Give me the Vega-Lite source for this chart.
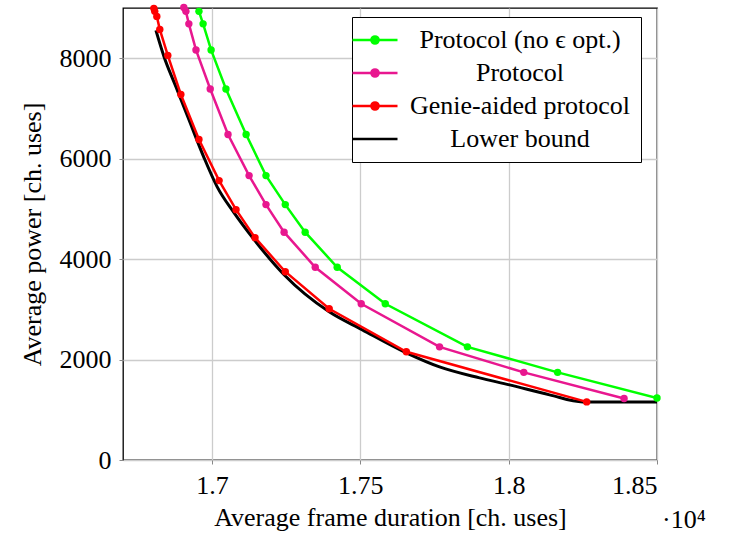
{
  "$schema": "https://vega.github.io/schema/vega-lite/v6.json",
  "width": 534,
  "height": 452,
  "autosize": {"type": "none"},
  "padding": {"left": 123, "top": 8, "right": 81, "bottom": 76},
  "background": "white",
  "config": {
    "font": "Liberation Serif, Times New Roman, DejaVu Serif, serif",
    "view": {"stroke": "black", "strokeWidth": 1.3},
    "axis": {
      "labelFont": "Liberation Serif, Times New Roman, DejaVu Serif, serif",
      "labelFontSize": 26,
      "labelColor": "black",
      "titleFont": "Liberation Serif, Times New Roman, DejaVu Serif, serif",
      "titleFontSize": 26,
      "titleFontWeight": "normal",
      "titleColor": "black",
      "domain": false,
      "grid": true,
      "gridColor": "#cccccc",
      "gridWidth": 1.3,
      "tickColor": "#888888",
      "tickSize": 4,
      "labelPadding": 8
    }
  },
  "datasets": {
    "curves": [
      {"series": "Protocol (no ϵ opt.)", "x": 16956, "y": 8933},
      {"series": "Protocol (no ϵ opt.)", "x": 16970, "y": 8684},
      {"series": "Protocol (no ϵ opt.)", "x": 16997, "y": 8165},
      {"series": "Protocol (no ϵ opt.)", "x": 17047, "y": 7388},
      {"series": "Protocol (no ϵ opt.)", "x": 17115, "y": 6481},
      {"series": "Protocol (no ϵ opt.)", "x": 17182, "y": 5663},
      {"series": "Protocol (no ϵ opt.)", "x": 17247, "y": 5085},
      {"series": "Protocol (no ϵ opt.)", "x": 17314, "y": 4536},
      {"series": "Protocol (no ϵ opt.)", "x": 17422, "y": 3838},
      {"series": "Protocol (no ϵ opt.)", "x": 17584, "y": 3111},
      {"series": "Protocol (no ϵ opt.)", "x": 17861, "y": 2253},
      {"series": "Protocol (no ϵ opt.)", "x": 18165, "y": 1745},
      {"series": "Protocol (no ϵ opt.)", "x": 18500, "y": 1236},
      {"series": "Protocol", "x": 16905, "y": 9010},
      {"series": "Protocol", "x": 16912, "y": 8933},
      {"series": "Protocol", "x": 16922, "y": 8684},
      {"series": "Protocol", "x": 16946, "y": 8165},
      {"series": "Protocol", "x": 16994, "y": 7388},
      {"series": "Protocol", "x": 17054, "y": 6481},
      {"series": "Protocol", "x": 17125, "y": 5663},
      {"series": "Protocol", "x": 17182, "y": 5085},
      {"series": "Protocol", "x": 17243, "y": 4536},
      {"series": "Protocol", "x": 17348, "y": 3838},
      {"series": "Protocol", "x": 17503, "y": 3111},
      {"series": "Protocol", "x": 17767, "y": 2253},
      {"series": "Protocol", "x": 18051, "y": 1745},
      {"series": "Protocol", "x": 18389, "y": 1226},
      {"series": "Genie-aided protocol", "x": 16804, "y": 8993},
      {"series": "Genie-aided protocol", "x": 16807, "y": 8933},
      {"series": "Genie-aided protocol", "x": 16814, "y": 8833},
      {"series": "Genie-aided protocol", "x": 16824, "y": 8574},
      {"series": "Genie-aided protocol", "x": 16851, "y": 8056},
      {"series": "Genie-aided protocol", "x": 16895, "y": 7278},
      {"series": "Genie-aided protocol", "x": 16956, "y": 6381},
      {"series": "Genie-aided protocol", "x": 17024, "y": 5563},
      {"series": "Genie-aided protocol", "x": 17081, "y": 4985},
      {"series": "Genie-aided protocol", "x": 17145, "y": 4427},
      {"series": "Genie-aided protocol", "x": 17247, "y": 3749},
      {"series": "Genie-aided protocol", "x": 17395, "y": 3011},
      {"series": "Genie-aided protocol", "x": 17655, "y": 2154},
      {"series": "Genie-aided protocol", "x": 18263, "y": 1157},
      {"series": "Lower bound", "x": 16811, "y": 8554},
      {"series": "Lower bound", "x": 16838, "y": 8036},
      {"series": "Lower bound", "x": 16878, "y": 7438},
      {"series": "Lower bound", "x": 16922, "y": 6780},
      {"series": "Lower bound", "x": 16973, "y": 6022},
      {"series": "Lower bound", "x": 17017, "y": 5444},
      {"series": "Lower bound", "x": 17074, "y": 4925},
      {"series": "Lower bound", "x": 17142, "y": 4387},
      {"series": "Lower bound", "x": 17243, "y": 3689},
      {"series": "Lower bound", "x": 17395, "y": 2951},
      {"series": "Lower bound", "x": 17507, "y": 2592},
      {"series": "Lower bound", "x": 17655, "y": 2134},
      {"series": "Lower bound", "x": 17767, "y": 1854},
      {"series": "Lower bound", "x": 17902, "y": 1635},
      {"series": "Lower bound", "x": 18003, "y": 1496},
      {"series": "Lower bound", "x": 18138, "y": 1296},
      {"series": "Lower bound", "x": 18250, "y": 1157},
      {"series": "Lower bound", "x": 18500, "y": 1157}
    ],
    "note": [{"x": 18500, "y": 0, "t": "·10⁴"}]
  },
  "data": {"name": "curves"},
  "encoding": {
    "x": {
      "field": "x",
      "type": "quantitative",
      "scale": {"domain": [16700, 18500], "nice": false, "zero": false},
      "axis": {
        "values": [17000, 17500, 18000, 18500],
        "labelExpr": "datum.value / 10000 + ''",
        "title": "Average frame duration [ch. uses]",
        "titlePadding": 6
      }
    },
    "y": {
      "field": "y",
      "type": "quantitative",
      "scale": {"domain": [0, 9000], "nice": false},
      "axis": {
        "values": [0, 2000, 4000, 6000, 8000],
        "format": "d",
        "title": "Average power [ch. uses]",
        "titlePadding": 14
      }
    },
    "color": {
      "field": "series",
      "type": "nominal",
      "scale": {
        "domain": ["Protocol (no ϵ opt.)", "Protocol", "Genie-aided protocol", "Lower bound"],
        "range": ["#00ff00", "#e8178f", "#ff0000", "#000000"]
      },
      "legend": {
        "orient": "none",
        "legendX": 229,
        "legendY": 9,
        "title": null,
        "fillColor": "white",
        "strokeColor": "black",
        "cornerRadius": 0,
        "padding": 10,
        "labelFont": "Liberation Serif, Times New Roman, DejaVu Serif, serif",
        "labelFontSize": 26,
        "labelColor": "black",
        "labelAlign": "center",
        "labelOffset": 132,
        "labelLimit": 400,
        "symbolSize": 400,
        "symbolStrokeWidth": 2.5,
        "rowPadding": 7,
        "encode": {
          "symbols": {
            "update": {
              "shape": {"signal": "datum.value === 'Lower bound' ? 'M-2.25,0L2.25,0' : 'M-2.25,0L2.25,0M-0.36,0A0.36,0.36,0,1,0,0.36,0A0.36,0.36,0,1,0,-0.36,0Z'"},
              "fill": {"signal": "scale('color', datum.value)"},
              "stroke": {"signal": "scale('color', datum.value)"}
            }
          }
        }
      }
    }
  },
  "layer": [
    {
      "transform": [{"filter": "datum.series === 'Lower bound'"}],
      "mark": {"type": "line", "strokeWidth": 3, "interpolate": "monotone", "clip": true}
    },
    {
      "transform": [{"filter": "datum.series !== 'Lower bound'"}],
      "mark": {"type": "line", "strokeWidth": 2.5, "clip": true}
    },
    {
      "transform": [{"filter": "datum.series !== 'Lower bound'"}],
      "mark": {"type": "point", "filled": true, "size": 55, "opacity": 1}
    },
    {
      "data": {"name": "note"},
      "mark": {"type": "text", "align": "left", "baseline": "middle", "dx": 5, "dy": 60, "fontSize": 26, "font": "Liberation Serif, Times New Roman, DejaVu Serif, serif"},
      "encoding": {
        "text": {"field": "t"},
        "color": {"value": "black"}
      }
    }
  ]
}
